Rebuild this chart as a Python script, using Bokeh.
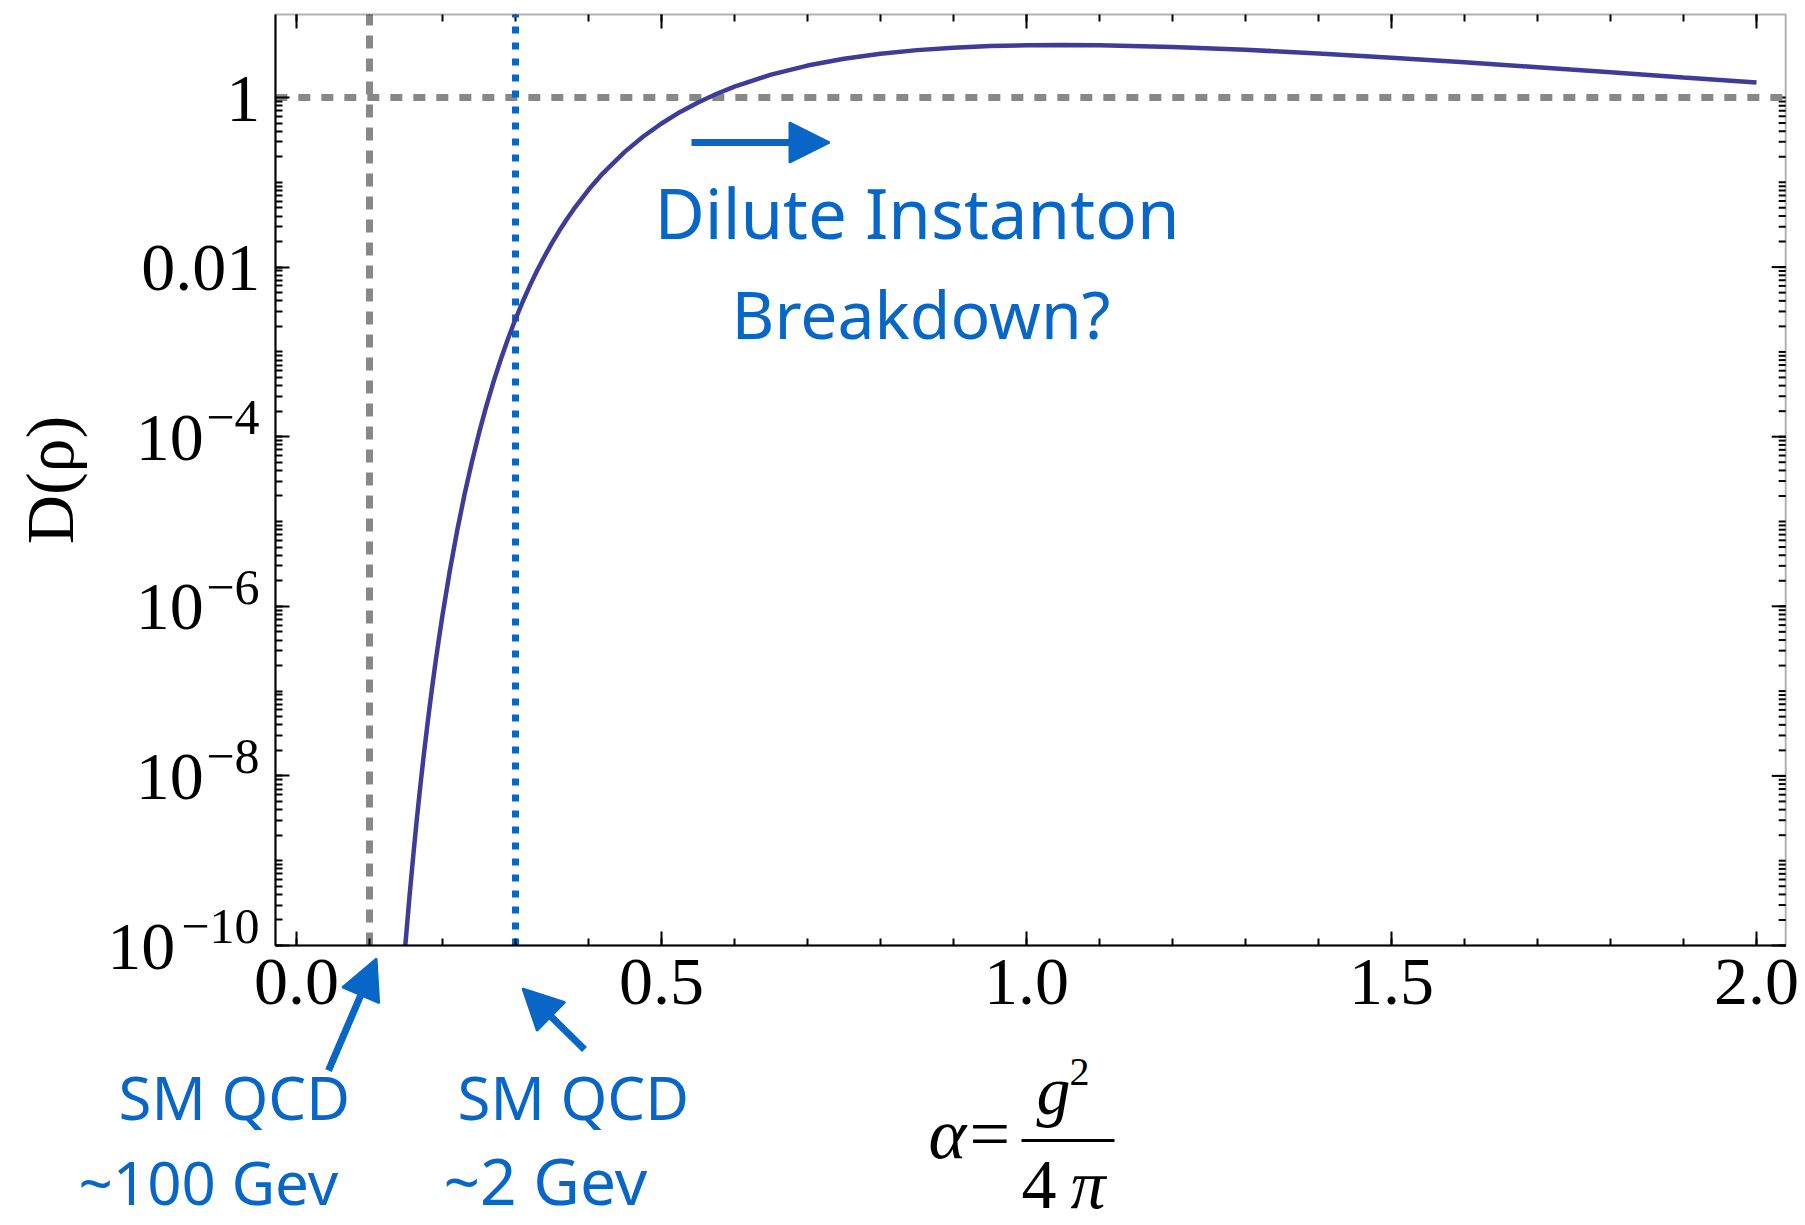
from bokeh.plotting import figure
from bokeh.models import (FixedTicker, Label, Arrow, NormalHead, Range1d, BoxAnnotation,
                          CustomJSTickFormatter, PrintfTickFormatter)
from bokeh.embed import file_html
from bokeh.resources import INLINE

# ---- data ----
alpha = [0.149, 0.15, 0.155, 0.16, 0.165, 0.17, 0.175, 0.18, 0.185, 0.19, 0.195,
         0.20, 0.21, 0.22, 0.23, 0.24, 0.25, 0.26, 0.27, 0.28, 0.29, 0.30, 0.31, 0.32,
         0.33, 0.34, 0.35, 0.36, 0.37, 0.38, 0.40, 0.42, 0.45, 0.475, 0.50, 0.525,
         0.55, 0.575, 0.60, 0.65, 0.70, 0.75, 0.80, 0.85, 0.90, 0.95, 1.00, 1.05,
         1.10, 1.20, 1.30, 1.40, 1.50, 1.60, 1.70, 1.80, 1.90, 2.00]
density = [1.0e-10, 1.25e-10, 3.97e-10, 1.16e-9, 3.18e-9, 8.15e-9, 1.97e-8,
           4.51e-8, 9.83e-8, 2.05e-7, 4.09e-7, 7.86e-7, 2.62e-6, 7.72e-6, 2.05e-5,
           4.94e-5, 1.10e-4, 2.29e-4, 4.47e-4, 8.25e-4, 1.45e-3, 2.44e-3, 3.93e-3,
           6.13e-3, 9.23e-3, 0.0135, 0.0193, 0.0268, 0.0364, 0.0485, 0.0815, 0.1285,
           0.230, 0.347, 0.494, 0.671, 0.875, 1.10, 1.345, 1.86, 2.38, 2.86, 3.28,
           3.62, 3.87, 4.04, 4.14, 4.16, 4.13, 3.95, 3.65, 3.31, 2.95, 2.60, 2.28,
           1.99, 1.72, 1.50]
sm_qcd_100gev_alpha = 0.1
sm_qcd_2gev_alpha = 0.3
dilute_threshold = 1.0

xtick_vals = [0.0, 0.5, 1.0, 1.5, 2.0]
ytick_vals = [1e-10, 1e-8, 1e-6, 1e-4, 1e-2, 1.0]
ytick_base = ["10\u2007\u2007\u2008", "10\u2007\u2008\u200a", "10\u2007\u2008\u200a",
              "10\u2007\u2008\u200a", "0.01", "1"]
ytick_exp = ["\u221210", "\u22128", "\u22126", "\u22124", "", ""]

BLUE = "#0766c6"
GRAY = "#888888"
CURVE = "#3d3d99"
SERIF = "Liberation Serif"
HAND = "Noto Sans"

# plotting box (data limits)
X0, X1 = -0.029, 2.04
Y0, Y1 = 1e-10, 9.5

# page-pixel <-> data helpers (used only to place free annotations)
PXD = 84.8   # pixels per decade
def xpx(fx):
    return (fx - 296.0) / 730.0

def ypx(fy):
    return 10 ** (-10 - (fy - 945.0) / PXD)

W, H = 1805, 1225
p = figure(width=W, height=H, x_range=Range1d(xpx(0), xpx(W)),
           y_range=Range1d(ypx(H), ypx(0)), y_axis_type="log",
           output_backend="svg", toolbar_location=None, min_border=0)
p.xgrid.visible = False
p.ygrid.visible = False
p.outline_line_color = None
p.background_fill_color = "white"
p.border_fill_color = "white"

# the plotting box
p.add_layout(BoxAnnotation(left=X0, right=X1, bottom=Y0, top=Y1, fill_color=None,
                           line_color="black", line_width=2, level="overlay"))

xminor = [round(0.1 * i, 1) for i in range(0, 21)]
yminor = [m * 10.0 ** k for k in range(-10, 0) for m in range(1, 10)]
MAJ, MIN = 14, 7

def style_axis(ax, ticks, minor):
    ax.ticker = FixedTicker(ticks=ticks, minor_ticks=minor)
    ax.axis_line_color = "black"
    ax.axis_line_width = 2
    ax.major_tick_in = MAJ
    ax.major_tick_out = 0
    ax.minor_tick_in = MIN
    ax.minor_tick_out = 0
    ax.major_tick_line_width = 2
    ax.minor_tick_line_width = 2
    ax.major_tick_line_color = "black"
    ax.minor_tick_line_color = "black"
    ax.major_label_text_font = SERIF
    ax.major_label_text_font_size = "68px"
    ax.major_label_text_color = "black"

xb = p.xaxis[0]
style_axis(xb, xtick_vals, xminor)
xb.fixed_location = Y0
xb.bounds = (X0, X1)
xb.formatter = PrintfTickFormatter(format="%.1f")
xb.major_label_standoff = 14

yl = p.yaxis[0]
style_axis(yl, ytick_vals, yminor)
yl.fixed_location = X0
yl.bounds = (Y0, Y1)
yl.formatter = CustomJSTickFormatter(args=dict(vals=ytick_vals, labs=ytick_base), code="""
for (let i = 0; i < vals.length; i++) {
  if (Math.abs(Math.log10(tick) - Math.log10(vals[i])) < 1e-6) { return labs[i]; }
}
return "1";
""")
yl.major_label_standoff = 15
yl.axis_label = "D(\u03c1)"
yl.axis_label_text_font = SERIF
yl.axis_label_text_font_size = "68px"
yl.axis_label_text_font_style = "normal"
yl.axis_label_text_color = "black"
yl.axis_label_standoff = 17

# mirrored ticks on the top and right edges of the box
top_maj_y = Y1 * 10 ** (-MAJ / PXD)
top_min_y = Y1 * 10 ** (-MIN / PXD)
p.segment(x0=xtick_vals, y0=[Y1] * len(xtick_vals), x1=xtick_vals,
          y1=[top_maj_y] * len(xtick_vals), line_color="black", line_width=2)
p.segment(x0=xminor, y0=[Y1] * len(xminor), x1=xminor,
          y1=[top_min_y] * len(xminor), line_color="black", line_width=2)
p.segment(x0=[X1] * len(ytick_vals), y0=ytick_vals, x1=[X1 - MAJ / 730.0] * len(ytick_vals),
          y1=ytick_vals, line_color="black", line_width=2)
p.segment(x0=[X1] * len(yminor), y0=yminor, x1=[X1 - MIN / 730.0] * len(yminor),
          y1=yminor, line_color="black", line_width=2)

# reference lines (bounded by the box)
p.segment(x0=[X0], y0=[dilute_threshold], x1=[X1], y1=[dilute_threshold],
          line_color=GRAY, line_width=7, line_dash="12 11")
p.segment(x0=[sm_qcd_100gev_alpha], y0=[Y0], x1=[sm_qcd_100gev_alpha], y1=[Y1],
          line_color=GRAY, line_width=7, line_dash="13 10")
p.segment(x0=[sm_qcd_2gev_alpha], y0=[Y0], x1=[sm_qcd_2gev_alpha], y1=[Y1],
          line_color=BLUE, line_width=7, line_dash="7 9")

# curve
p.line(alpha, density, line_color=CURVE, line_width=4.5)

def lab(text, fx, fy, size, font=HAND, style="normal", color=BLUE, align="left"):
    p.add_layout(Label(x=xpx(fx), y=ypx(fy), text=text, text_font=font,
                       text_font_size=f"{size}px", text_font_style=style,
                       text_color=color, text_align=align, text_baseline="middle"))

# exponents of the power-of-ten tick labels
for v, e in zip(ytick_vals, ytick_exp):
    if e:
        p.add_layout(Label(x=xpx(259), y=v * 10 ** (19 / PXD), text=e, text_font=SERIF,
                           text_font_size="50px", text_color="black", text_align="right",
                           text_baseline="middle"))

def arrow(fx0, fy0, fx1, fy1):
    p.add_layout(Arrow(end=NormalHead(size=40, fill_color=BLUE, line_color=BLUE, line_width=2),
                       x_start=xpx(fx0), y_start=ypx(fy0), x_end=xpx(fx1), y_end=ypx(fy1),
                       line_color=BLUE, line_width=7))

# handwritten annotations
lab("Dilute Instanton", 654, 211, 69)
lab("Breakdown?", 731, 312, 66)
arrow(691, 142, 829, 142)

lab("SM QCD", 118, 1096, 60)
lab("~100 Gev", 78, 1181, 60)
lab("SM QCD", 457, 1096, 60)
lab("~2 Gev", 443, 1180, 64)
arrow(328, 1070, 376, 958)
arrow(584, 1049, 522, 988)

# x-axis label: alpha = g^2 / (4 pi)
lab("\u03b1", 928, 1133, 72, font=SERIF, style="italic", color="black")
lab("=", 969, 1133, 72, font=SERIF, color="black")
lab("g", 1036, 1090, 68, font=SERIF, style="italic", color="black")
lab("2", 1069, 1071, 40, font=SERIF, color="black")
p.add_layout(Arrow(end=None, start=None, x_start=xpx(1021), y_start=ypx(1140),
                   x_end=xpx(1114), y_end=ypx(1140), line_color="black", line_width=3))
lab("4", 1021, 1184, 70, font=SERIF, color="black")
lab("\u03c0", 1070, 1184, 70, font=SERIF, style="italic", color="black")

open("out.html", "w").write(file_html(p, INLINE))
